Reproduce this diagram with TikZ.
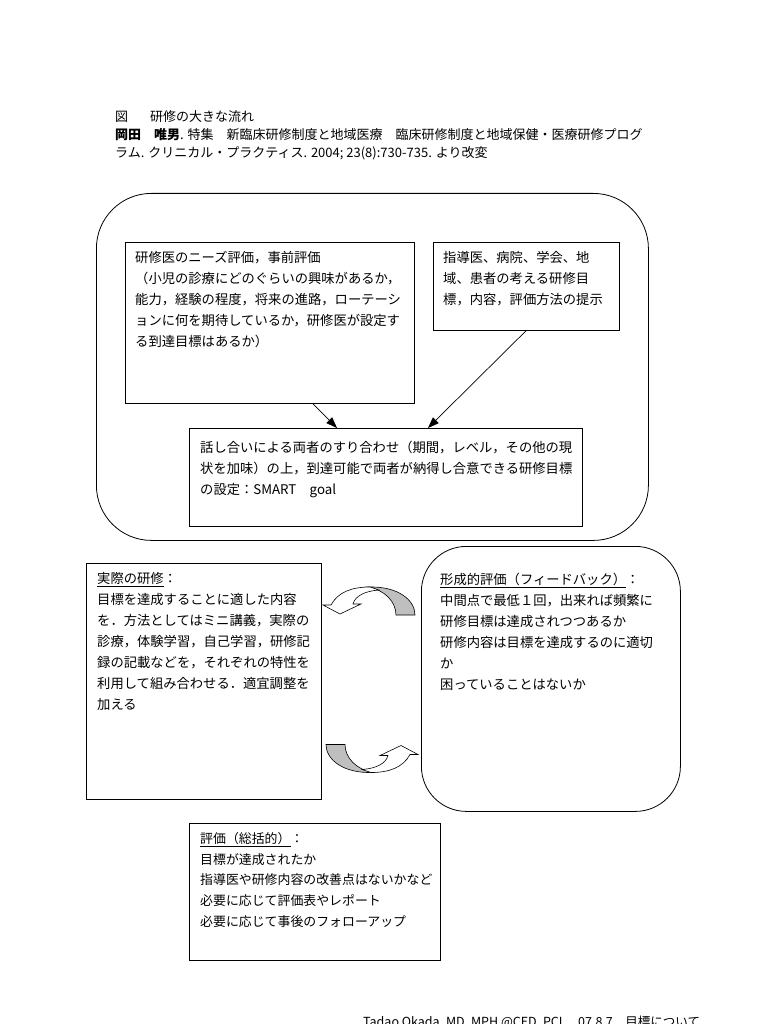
\documentclass[tikz,border=0pt]{standalone}
\usepackage{fontspec}
\setmainfont{Noto Sans CJK JP}
\usetikzlibrary{arrows.meta}
\newcommand\boxfont{\fontsize{13.3}{21}\selectfont}
\newcommand\smboxfont{\fontsize{12.9}{20.8}\selectfont}
\newcommand\hdfont{\fontsize{13}{18}\selectfont}
\begin{document}
\begin{tikzpicture}[x=1pt,y=-1pt,
  frame/.style={draw, line width=0.8pt, inner sep=0pt, anchor=north west},
  txt/.style={anchor=north west, inner sep=0pt, align=left, font=\boxfont},
  hd/.style={anchor=west, inner sep=0pt, font=\hdfont},
  arr/.style={-{Triangle[length=11pt,width=8pt]}, line width=0.7pt},
  curvarr/.pic={
    \draw[line width=0.6pt, fill=black!25]
      (-1,-14) .. controls (29,-15) and (46,-1) .. (46,14) -- (27,14)
      .. controls (27,1) and (16,-11) .. (-1,-14) -- cycle;
    \draw[line width=0.6pt, fill=white]
      (-38,4) .. controls (-31,-9) and (-17,-14) .. (1,-14)
      -- (10,-11)
      .. controls (-4,-10) and (-14,-5) .. (-16,3)
      -- (-8,3) -- (-29,13) -- (-46,4) -- cycle;
  }]
\useasboundingbox (0,0) rectangle (768,1024);
\clip (0,0) rectangle (768,1024);
\fill[white] (0,0) rectangle (768,1024);

% header
\node[hd] (h1a) at (115,117) {図};
\node[hd] (h1b) at (150,117) {研修の大きな流れ};
\node[hd] (h2) at (115,135) {\textbf{岡田　唯男}. 特集　新臨床研修制度と地域医療　臨床研修制度と地域保健・医療研修プログ};
\node[hd] (h3) at (115,153) {ラム. クリニカル・プラクティス. 2004; 23(8):730-735. より改変};

% top group
\node[frame, rounded corners=55pt, minimum width=552pt, minimum height=347pt] (outer) at (96,193) {};
\node[frame, minimum width=289pt, minimum height=161pt] (A) at (125,242) {};
\node[frame, minimum width=186pt, minimum height=88pt] (B) at (433,242) {};
\node[frame, minimum width=393pt, minimum height=98pt] (C) at (189,428) {};

\node[txt] (At) at (135,251) {研修医のニーズ評価，事前評価\\（小児の診療にどのぐらいの興味があるか，\\能力，経験の程度，将来の進路，ローテーシ\\ョンに何を期待しているか，研修医が設定す\\る到達目標はあるか）};
\node[txt] (Bt) at (443,251) {指導医、病院、学会、地\\域、患者の考える研修目\\標，内容，評価方法の提示};
\node[txt] (Ct) at (200,441) {話し合いによる両者のすり合わせ（期間，レベル，その他の現\\状を加味）の上，到達可能で両者が納得し合意できる研修目標\\の設定：SMART　goal};

\draw[arr] ([xshift=188pt]A.south west) -- ([xshift=148pt]C.north west);
\draw[arr] ([xshift=93pt]B.south west) -- ([xshift=239pt]C.north west);

% middle
\node[frame, minimum width=235pt, minimum height=236pt] (D) at (86,563) {};
\node[frame, rounded corners=45pt, minimum width=259pt, minimum height=265pt] (E) at (421,546) {};

\node[txt] (Dt) at (97,572) {\underline{実際の研修}：\\目標を達成することに適した内容\\を．方法としてはミニ講義，実際の\\診療，体験学習，自己学習，研修記\\録の記載などを，それぞれの特性を\\利用して組み合わせる．適宜調整を\\加える};
\node[txt] (Et) at (440,573) {\underline{形成的評価（フィードバック）}：\\中間点で最低１回，出来れば頻繁に\\研修目標は達成されつつあるか\\研修内容は目標を達成するのに適切\\か\\困っていることはないか};

\pic at (369,601) {curvarr};
\pic[rotate=180] at (372,758.5) {curvarr};

% bottom
\node[frame, minimum width=251pt, minimum height=137pt] (F) at (189,823) {};
\node[txt, font=\smboxfont] (Ft) at (200,832) {\underline{評価（総括的）}：\\目標が達成されたか\\指導医や研修内容の改善点はないかなど\\必要に応じて評価表やレポート\\必要に応じて事後のフォローアップ};

% footer (cut off at the page edge, as in the reference)
\node[hd, font=\fontsize{12.5}{15}\selectfont] (foot) at (363,1022) {Tadao Okada, MD, MPH @CED, PCL　07.8.7　目標について};
\end{tikzpicture}
\end{document}
